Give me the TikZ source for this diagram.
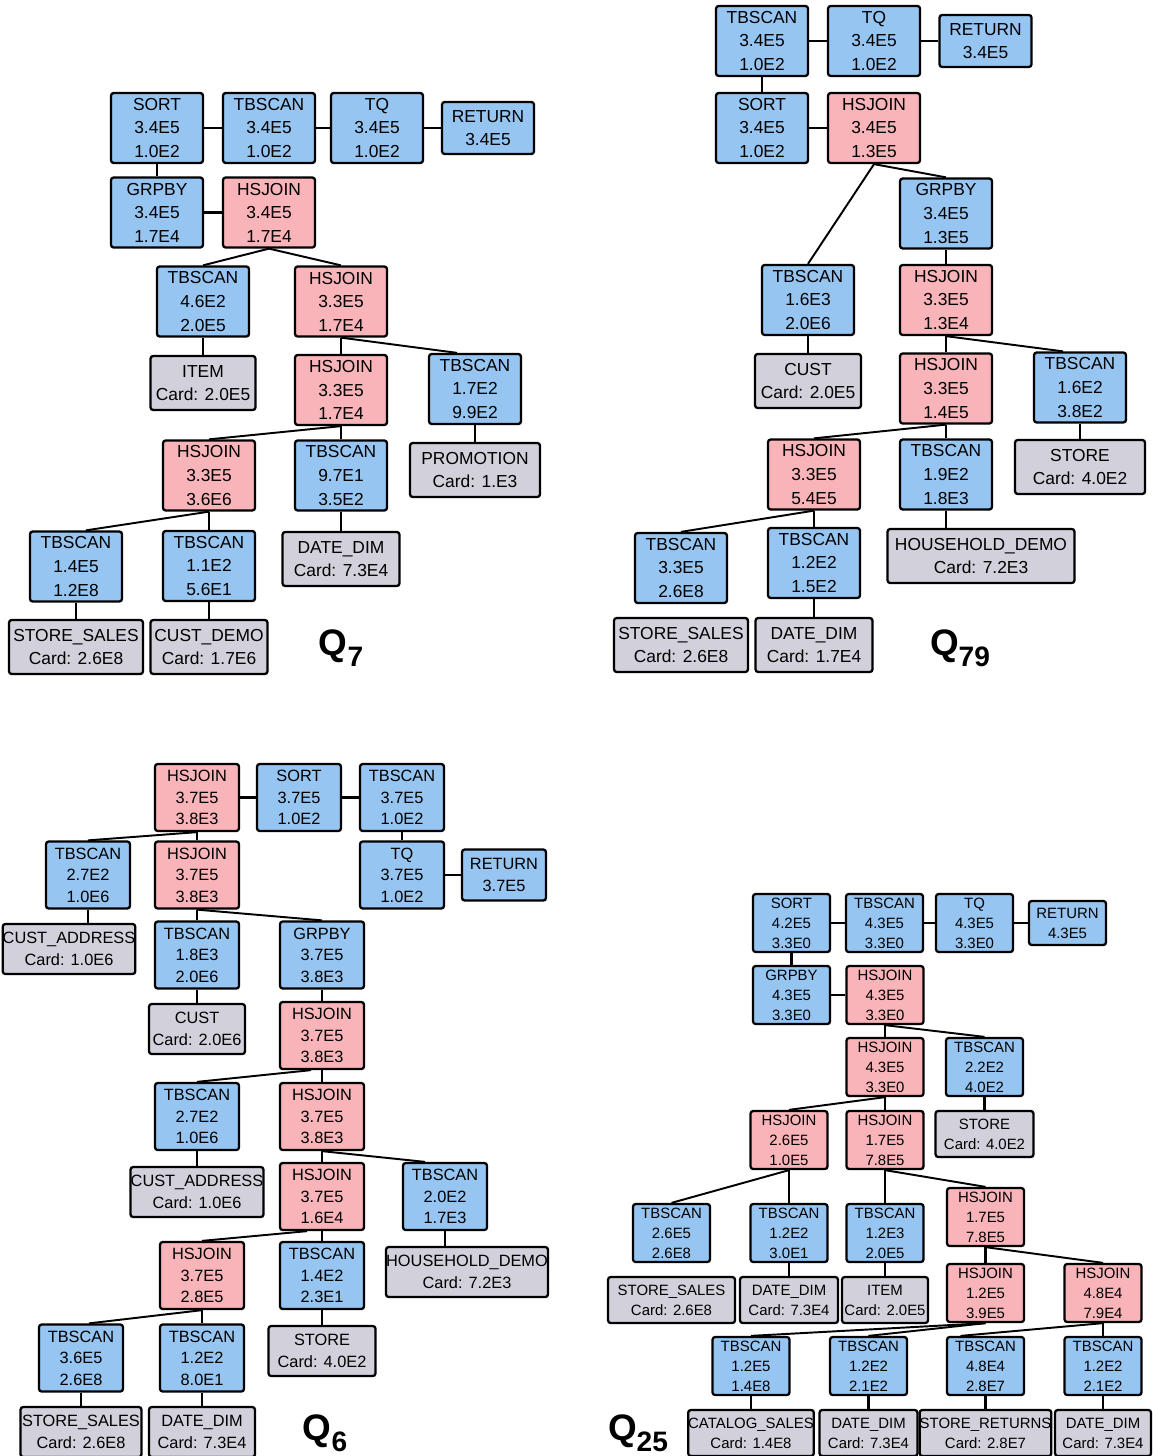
\documentclass[tikz,border=0pt]{standalone}
\usepackage{fontspec}
\setmainfont{Liberation Sans}
\usepackage{tikz}
\usetikzlibrary{positioning,calc}

\definecolor{scanblue}{HTML}{96C5F2}
\definecolor{joinpink}{HTML}{F8B4B8}
\definecolor{tblgray}{HTML}{D2D0DA}

\newcommand{\qlab}[1]{Q\raisebox{-0.3em}{\fontsize{16}{16}\selectfont #1}}

\begin{document}
\begin{tikzpicture}[
        x=0.02cm, y=-0.02cm,
        opw/.store in=\opw, oph/.store in=\oph, reth/.store in=\reth, tblh/.store in=\tblh,
        opbox/.style={draw, line width=1.3pt, rounded corners=1.5pt, inner sep=0pt, align=center},
        scanop/.style={opbox, fill=scanblue, minimum width=\opw, minimum height=\oph},
        joinop/.style={opbox, fill=joinpink, minimum width=\opw, minimum height=\oph},
        retop/.style={opbox, fill=scanblue, minimum width=\opw, minimum height=\reth},
        tbl/.style={opbox, fill=tblgray, minimum width=#1, minimum height=\tblh},
        link/.style={line width=1.5pt},
        diag/.style={line width=1.1pt},
        qlabel/.style={font=\fontsize{21}{21}\selectfont\bfseries, inner sep=0pt}
    ]
    \useasboundingbox (0,0) rectangle (1152,1456);

    % Q7
    \begin{scope}[opw=1.84cm, oph=1.4cm, reth=1.04cm, tblh=1.08cm,
                  every node/.append style={font=\fontsize{9.9}{13.4}\selectfont}]
        \node[scanop] (q7sort) at (157,128) {SORT\\3.4E5\\1.0E2};
        \node[scanop] (q7scan) at (269,128) {TBSCAN\\3.4E5\\1.0E2};
        \node[scanop] (q7tq) at (377,128) {TQ\\3.4E5\\1.0E2};
        \node[retop] (q7ret) at (488,128) {RETURN\\3.4E5};
        \node[scanop] (q7grp) at (157,212.5) {GRPBY\\3.4E5\\1.7E4};
        \node[joinop] (q7join) at (269,212.5) {HSJOIN\\3.4E5\\1.7E4};
        \node[scanop] (q7scanA) at (203,301.5) {TBSCAN\\4.6E2\\2.0E5};
        \node[joinop] (q7joinA) at (341,301.5) {HSJOIN\\3.3E5\\1.7E4};
        \node[tbl=2.1cm] (q7item) at (203,383) {ITEM\\Card: 2.0E5};
        \node[joinop] (q7joinB) at (341,390) {HSJOIN\\3.3E5\\1.7E4};
        \node[scanop] (q7scanB) at (475,389) {TBSCAN\\1.7E2\\9.9E2};
        \node[joinop] (q7joinC) at (209,475.5) {HSJOIN\\3.3E5\\3.6E6};
        \node[scanop] (q7scanC) at (341,475.5) {TBSCAN\\9.7E1\\3.5E2};
        \node[tbl=2.6cm] (q7promo) at (475,470) {PROMOTION\\Card: 1.E3};
        \node[scanop] (q7scanD) at (76,566.5) {TBSCAN\\1.4E5\\1.2E8};
        \node[scanop] (q7scanE) at (209,566) {TBSCAN\\1.1E2\\5.6E1};
        \node[tbl=2.34cm] (q7date) at (341,559) {DATE\_DIM\\Card: 7.3E4};
        \node[tbl=2.68cm] (q7ss) at (76,647) {STORE\_SALES\\Card: 2.6E8};
        \node[tbl=2.34cm] (q7cd) at (209,647) {CUST\_DEMO\\Card: 1.7E6};
        \node[qlabel] (q7lbl) at (341,648) {\qlab{7}};

        \draw[link] (q7sort) -- (q7scan);
        \draw[link] (q7scan) -- (q7tq);
        \draw[link] (q7tq) -- (q7ret);
        \draw[link] (q7sort) -- (q7grp);
        \draw[link] (q7grp) -- (q7join);
        \draw[diag] (q7join.south) -- (q7scanA.north);
        \draw[diag] (q7join.south) -- (q7joinA.north);
        \draw[link] (q7scanA) -- (q7item);
        \draw[link] (q7joinA) -- (q7joinB);
        \draw[diag] (q7joinA.south) -- ([xshift=-0.36cm]q7scanB.north);
        \draw[link] (q7scanB) -- (q7promo);
        \draw[diag] (q7joinB.south) -- (q7joinC.north);
        \draw[link] (q7joinB) -- (q7scanC);
        \draw[link] (q7scanC) -- (q7date);
        \draw[diag] (q7joinC.south) -- ([xshift=0.2cm]q7scanD.north);
        \draw[link] (q7joinC) -- (q7scanE);
        \draw[link] (q7scanD) -- (q7ss);
        \draw[link] (q7scanE) -- (q7cd);
    \end{scope}

    % Q79
    \begin{scope}[opw=1.84cm, oph=1.4cm, reth=1.04cm, tblh=1.08cm,
                  every node/.append style={font=\fontsize{9.9}{13.4}\selectfont}]
        \node[scanop] (q79scan) at (762,41) {TBSCAN\\3.4E5\\1.0E2};
        \node[scanop] (q79tq) at (874,41) {TQ\\3.4E5\\1.0E2};
        \node[retop] (q79ret) at (985.5,41) {RETURN\\3.4E5};
        \node[scanop] (q79sort) at (762,128) {SORT\\3.4E5\\1.0E2};
        \node[joinop] (q79join) at (874,128) {HSJOIN\\3.4E5\\1.3E5};
        \node[scanop] (q79grp) at (946,213.5) {GRPBY\\3.4E5\\1.3E5};
        \node[scanop] (q79scanA) at (808,300) {TBSCAN\\1.6E3\\2.0E6};
        \node[joinop] (q79joinA) at (946,300) {HSJOIN\\3.3E5\\1.3E4};
        \node[tbl=2.12cm] (q79cust) at (808,381) {CUST\\Card: 2.0E5};
        \node[joinop] (q79joinB) at (946,388.5) {HSJOIN\\3.3E5\\1.4E5};
        \node[scanop] (q79scanB) at (1080,387.5) {TBSCAN\\1.6E2\\3.8E2};
        \node[tbl=2.6cm] (q79store) at (1080,467) {STORE\\Card: 4.0E2};
        \node[joinop] (q79joinC) at (814,474.5) {HSJOIN\\3.3E5\\5.4E5};
        \node[scanop] (q79scanC) at (946,474.5) {TBSCAN\\1.9E2\\1.8E3};
        \node[tbl=3.74cm] (q79hd) at (981,556) {HOUSEHOLD\_DEMO\\Card: 7.2E3};
        \node[scanop] (q79scanD) at (681,568) {TBSCAN\\3.3E5\\2.6E8};
        \node[scanop] (q79scanE) at (814,563) {TBSCAN\\1.2E2\\1.5E2};
        \node[tbl=2.68cm] (q79ss) at (681,645) {STORE\_SALES\\Card: 2.6E8};
        \node[tbl=2.34cm] (q79date) at (814,645) {DATE\_DIM\\Card: 1.7E4};
        \node[qlabel] (q79lbl) at (960,648) {\qlab{79}};

        \draw[link] (q79scan) -- (q79tq);
        \draw[link] (q79tq) -- (q79ret);
        \draw[link] (q79scan) -- (q79sort);
        \draw[link] (q79sort) -- (q79join);
        \draw[diag] (q79join.south) -- (q79scanA.north);
        \draw[diag] (q79join.south) -- (q79grp.north);
        \draw[link] (q79grp) -- (q79joinA);
        \draw[link] (q79scanA) -- (q79cust);
        \draw[link] (q79joinA) -- (q79joinB);
        \draw[diag] (q79joinA.south) -- ([xshift=-0.34cm]q79scanB.north);
        \draw[link] (q79scanB) -- (q79store);
        \draw[diag] (q79joinB.south) -- (q79joinC.north);
        \draw[link] (q79joinB) -- (q79scanC);
        \draw[link] (q79scanC.south) -- (q79scanC.south |- q79hd.north);
        \draw[diag] (q79joinC.south) -- (q79scanD.north);
        \draw[link] (q79joinC) -- (q79scanE);
        \draw[link] (q79scanE) -- (q79date);
    \end{scope}

    % Q6
    \begin{scope}[opw=1.68cm, oph=1.34cm, reth=1.02cm, tblh=1.0cm,
                  every node/.append style={font=\fontsize{9.3}{12.2}\selectfont}]
        \node[joinop] (q6join) at (197,797.5) {HSJOIN\\3.7E5\\3.8E3};
        \node[scanop] (q6sort) at (299,797.5) {SORT\\3.7E5\\1.0E2};
        \node[scanop] (q6scan) at (402,797.5) {TBSCAN\\3.7E5\\1.0E2};
        \node[scanop] (q6tq) at (402,875) {TQ\\3.7E5\\1.0E2};
        \node[retop] (q6ret) at (504,875) {RETURN\\3.7E5};
        \node[scanop] (q6scanA) at (88,875) {TBSCAN\\2.7E2\\1.0E6};
        \node[joinop] (q6joinA) at (197,875) {HSJOIN\\3.7E5\\3.8E3};
        \node[tbl=2.64cm] (q6ca) at (69,949) {CUST\_ADDRESS\\Card: 1.0E6};
        \node[scanop] (q6scanB) at (197,955) {TBSCAN\\1.8E3\\2.0E6};
        \node[scanop] (q6grp) at (322,955) {GRPBY\\3.7E5\\3.8E3};
        \node[tbl=1.92cm] (q6cust) at (197,1029) {CUST\\Card: 2.0E6};
        \node[joinop] (q6joinB) at (322,1035.5) {HSJOIN\\3.7E5\\3.8E3};
        \node[scanop] (q6scanC) at (197,1116.5) {TBSCAN\\2.7E2\\1.0E6};
        \node[joinop] (q6joinC) at (322,1116.5) {HSJOIN\\3.7E5\\3.8E3};
        \node[tbl=2.66cm] (q6caB) at (197,1192) {CUST\_ADDRESS\\Card: 1.0E6};
        \node[joinop] (q6joinD) at (322,1196.5) {HSJOIN\\3.7E5\\1.6E4};
        \node[scanop] (q6scanD) at (445,1196.5) {TBSCAN\\2.0E2\\1.7E3};
        \node[joinop] (q6joinE) at (202,1275.5) {HSJOIN\\3.7E5\\2.8E5};
        \node[scanop] (q6scanE) at (322,1275.5) {TBSCAN\\1.4E2\\2.3E1};
        \node[tbl=3.24cm] (q6hd) at (467,1272) {HOUSEHOLD\_DEMO\\Card: 7.2E3};
        \node[scanop] (q6scanF) at (81,1358) {TBSCAN\\3.6E5\\2.6E8};
        \node[scanop] (q6scanG) at (202,1358) {TBSCAN\\1.2E2\\8.0E1};
        \node[tbl=2.14cm] (q6store) at (322,1351) {STORE\\Card: 4.0E2};
        \node[tbl=2.42cm] (q6ss) at (81,1432) {STORE\_SALES\\Card: 2.6E8};
        \node[tbl=2.12cm] (q6date) at (202,1432) {DATE\_DIM\\Card: 7.3E4};
        \node[qlabel] (q6lbl) at (325,1433) {\qlab{6}};

        \draw[link] (q6join) -- (q6sort);
        \draw[link] (q6sort) -- (q6scan);
        \draw[link] (q6scan) -- (q6tq);
        \draw[link] (q6tq) -- (q6ret);
        \draw[diag] (q6join.south) -- (q6scanA.north);
        \draw[link] (q6join) -- (q6joinA);
        \draw[link] (q6scanA.south) -- (q6scanA.south |- q6ca.north);
        \draw[link] (q6joinA) -- (q6scanB);
        \draw[diag] (q6joinA.south) -- (q6grp.north);
        \draw[link] (q6scanB) -- (q6cust);
        \draw[link] (q6grp) -- (q6joinB);
        \draw[diag] ([xshift=-0.22cm]q6joinB.south) -- (q6scanC.north);
        \draw[link] (q6joinB) -- (q6joinC);
        \draw[link] (q6scanC) -- (q6caB);
        \draw[link] (q6joinC) -- (q6joinD);
        \draw[diag] (q6joinC.south) -- ([xshift=-0.4cm]q6scanD.north);
        \draw[link] (q6scanD.south) -- (q6scanD.south |- q6hd.north);
        \draw[diag] ([xshift=-0.3cm]q6joinD.south) -- (q6joinE.north);
        \draw[link] (q6joinD) -- (q6scanE);
        \draw[diag] (q6joinE.south) -- ([xshift=0.16cm]q6scanF.north);
        \draw[link] (q6joinE) -- (q6scanG);
        \draw[link] (q6scanE) -- (q6store);
        \draw[link] (q6scanF) -- (q6ss);
        \draw[link] (q6scanG) -- (q6date);
    \end{scope}

    % Q25
    \begin{scope}[opw=1.54cm, oph=1.16cm, reth=0.88cm, tblh=0.92cm,
                  every node/.append style={font=\fontsize{8.5}{11.4}\selectfont}]
        \node[scanop] (q25sort) at (791.5,923) {SORT\\4.2E5\\3.3E0};
        \node[scanop] (q25scan) at (884.5,923) {TBSCAN\\4.3E5\\3.3E0};
        \node[scanop] (q25tq) at (974.5,923) {TQ\\4.3E5\\3.3E0};
        \node[retop] (q25ret) at (1067.5,923) {RETURN\\4.3E5};
        \node[scanop] (q25grp) at (791.5,995) {GRPBY\\4.3E5\\3.3E0};
        \node[joinop] (q25join) at (885,995) {HSJOIN\\4.3E5\\3.3E0};
        \node[joinop] (q25joinA) at (885,1067) {HSJOIN\\4.3E5\\3.3E0};
        \node[scanop] (q25scanA) at (984.5,1067) {TBSCAN\\2.2E2\\4.0E2};
        \node[tbl=1.96cm] (q25store) at (984.5,1134) {STORE\\Card: 4.0E2};
        \node[joinop] (q25joinB) at (789,1140) {HSJOIN\\2.6E5\\1.0E5};
        \node[joinop] (q25joinC) at (885,1140) {HSJOIN\\1.7E5\\7.8E5};
        \node[scanop] (q25scanB) at (671.5,1233) {TBSCAN\\2.6E5\\2.6E8};
        \node[scanop] (q25scanC) at (789,1233) {TBSCAN\\1.2E2\\3.0E1};
        \node[scanop] (q25scanD) at (885,1233) {TBSCAN\\1.2E3\\2.0E5};
        \node[joinop] (q25joinD) at (985.5,1217) {HSJOIN\\1.7E5\\7.8E5};
        \node[tbl=2.54cm] (q25ss) at (671.5,1300) {STORE\_SALES\\Card: 2.6E8};
        \node[tbl=1.96cm] (q25date) at (789,1300) {DATE\_DIM\\Card: 7.3E4};
        \node[tbl=1.72cm] (q25item) at (885,1300) {ITEM\\Card: 2.0E5};
        \node[joinop] (q25joinE) at (985.5,1293) {HSJOIN\\1.2E5\\3.9E5};
        \node[joinop] (q25joinF) at (1103,1293) {HSJOIN\\4.8E4\\7.9E4};
        \node[scanop] (q25scanE) at (751,1366) {TBSCAN\\1.2E5\\1.4E8};
        \node[scanop] (q25scanF) at (868.5,1366) {TBSCAN\\1.2E2\\2.1E2};
        \node[scanop] (q25scanG) at (985.5,1366) {TBSCAN\\4.8E4\\2.8E7};
        \node[scanop] (q25scanH) at (1103,1366) {TBSCAN\\1.2E2\\2.1E2};
        \node[tbl=2.48cm] (q25cs) at (751,1433) {CATALOG\_SALES\\Card: 1.4E8};
        \node[tbl=1.96cm] (q25dateB) at (868.5,1433) {DATE\_DIM\\Card: 7.3E4};
        \node[tbl=2.6cm] (q25sr) at (985.5,1433) {STORE\_RETURNS\\Card: 2.8E7};
        \node[tbl=1.92cm] (q25dateC) at (1103,1433) {DATE\_DIM\\Card: 7.3E4};
        \node[qlabel] (q25lbl) at (638,1433) {\qlab{25}};

        \draw[link] (q25sort) -- (q25scan);
        \draw[link] (q25scan) -- (q25tq);
        \draw[link] (q25tq) -- (q25ret);
        \draw[link] (q25sort) -- (q25grp);
        \draw[link] (q25grp) -- (q25join);
        \draw[link] (q25join) -- (q25joinA);
        \draw[diag] (q25join.south) -- (q25scanA.north);
        \draw[link] (q25scanA) -- (q25store);
        \draw[diag] (q25joinA.south) -- (q25joinB.north);
        \draw[link] (q25joinA) -- (q25joinC);
        \draw[diag] (q25joinB.south) -- (q25scanB.north);
        \draw[link] (q25joinB) -- (q25scanC);
        \draw[link] (q25joinC) -- (q25scanD);
        \draw[diag] (q25joinC.south) -- (q25joinD.north);
        \draw[link] (q25scanC) -- (q25date);
        \draw[link] (q25scanD) -- (q25item);
        \draw[link] (q25joinD) -- (q25joinE);
        \draw[diag] (q25joinD.south) -- (q25joinF.north);
        \draw[diag] (q25joinE.south) -- (q25scanE.north);
        \draw[diag] (q25joinE.south) -- (q25scanF.north);
        \draw[diag] (q25joinF.south) -- ([xshift=-0.5cm]q25scanG.north);
        \draw[link] (q25joinF) -- (q25scanH);
        \draw[link] (q25scanE) -- (q25cs);
        \draw[link] (q25scanF) -- (q25dateB);
        \draw[link] (q25scanG) -- (q25sr);
        \draw[link] (q25scanH) -- (q25dateC);
    \end{scope}
\end{tikzpicture}
\end{document}
